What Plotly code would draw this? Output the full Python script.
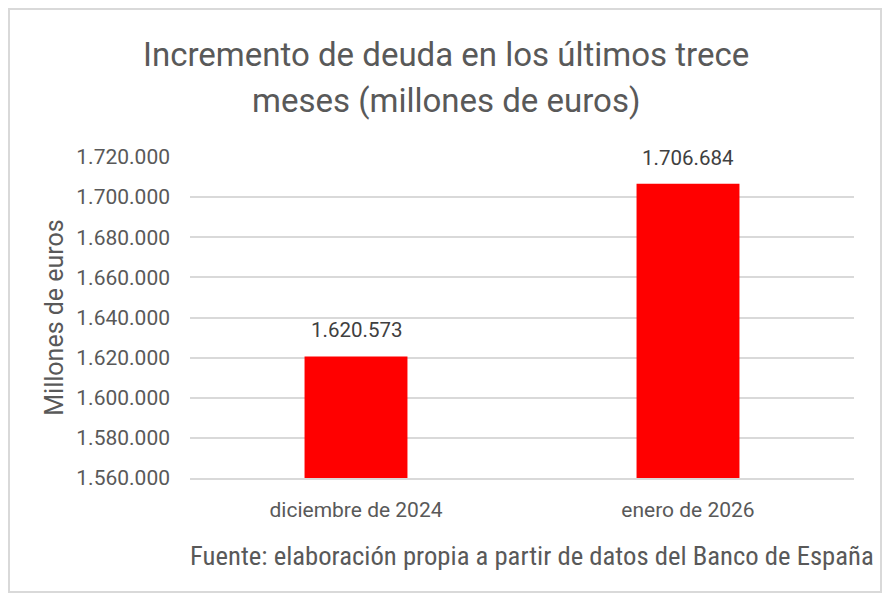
import plotly.graph_objects as go

# Datos (millones de euros)
categorias = ['diciembre de 2024', 'enero de 2026']
deuda = [1620573, 1706684]
ticks_y = [1560000, 1580000, 1600000, 1620000, 1640000, 1660000, 1680000, 1700000, 1720000]

titulo = ['Incremento de deuda en los últimos trece', 'meses (millones de euros)']
eje_y = 'Millones de euros'
fuente = 'Fuente: elaboración propia a partir de datos del Banco de España'

GRIS = '#595959'
FUENTE_BASE = 'Roboto, Open Sans, sans-serif'

# la pagina tiene 8px de margen en body: todo se mide restando 8
W, H = 877, 590
L, R, T, B = 182, 31, 149, 120
plot_w = W - L - R
plot_h = H - T - B


def px_x(x):
    return (x - 8 - L) / plot_w


def px_y(y):
    return (H - B - (y - 8)) / plot_h


fig = go.Figure()

fig.add_trace(
    go.Bar(
        x=categorias,
        y=deuda,
        marker=dict(color='#ff0000', line=dict(width=0)),
        hoverinfo='x+y',
    )
)

# etiquetas de datos encima de cada barra
for cat, val in zip(categorias, deuda):
    fig.add_annotation(
        x=cat, y=val, xref='x', yref='y',
        text=f'{val:,}'.replace(',', '.'),
        showarrow=False, yanchor='bottom', yshift=12,
        font=dict(family=FUENTE_BASE, size=20.5, color='#404040'),
    )

# titulo en dos lineas
for i, linea in enumerate(titulo):
    fig.add_annotation(
        x=px_x(446), y=px_y(55 + i * 45), xref='paper', yref='paper',
        yanchor='middle', text=linea, showarrow=False,
        font=dict(family=FUENTE_BASE, size=33, color=GRIS),
    )

fig.add_annotation(
    x=px_x(876), y=px_y(556), xref='paper', yref='paper',
    xanchor='right', yanchor='middle', showarrow=False,
    text=fuente,
    font=dict(family='Liberation Sans Narrow, Roboto Condensed, Roboto', size=26.7, color=GRIS),
)

# marco del grafico
fig.add_shape(
    type='rect', xref='paper', yref='paper',
    x0=px_x(9), x1=px_x(881),
    y0=px_y(592), y1=px_y(9),
    line=dict(color='#d9d9d9', width=2),
    fillcolor='rgba(0,0,0,0)',
    layer='below',
)

fig.update_layout(
    width=W,
    height=H,
    margin=dict(l=L, r=R, t=T, b=B),
    paper_bgcolor='white',
    plot_bgcolor='white',
    separators=',.',
    showlegend=False,
    bargap=0.69,
    font=dict(family=FUENTE_BASE, size=17, color=GRIS),
    yaxis=dict(
        range=[1560000, 1720000],
        tickvals=ticks_y,
        tickformat=',d',
        showgrid=True,
        gridcolor='#d9d9d9',
        gridwidth=1.5,
        zeroline=False,
        showline=False,
        ticklabelstandoff=19,
        tickfont=dict(size=21, color=GRIS),
        title=dict(text=eje_y, font=dict(size=25, color=GRIS), standoff=5),
    ),
    xaxis=dict(
        showline=True,
        linecolor='#d9d9d9',
        linewidth=1.5,
        tickfont=dict(size=21, color=GRIS),
        ticklabelstandoff=12,
    ),
)

fig.write_html('out.html')
